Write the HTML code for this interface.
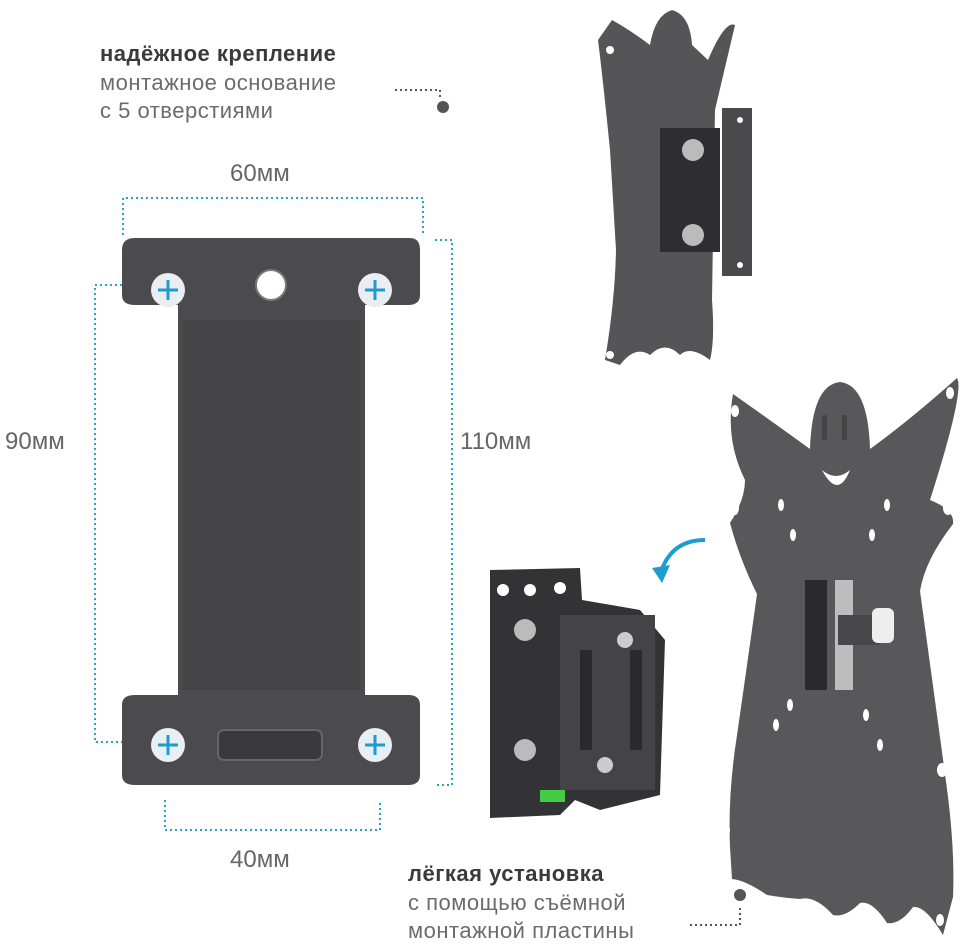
<!DOCTYPE html>
<html><head><meta charset="utf-8"><style>
html,body{margin:0;padding:0;background:#fff;}
body{width:968px;height:944px;position:relative;overflow:hidden;font-family:"Liberation Sans","DejaVu Sans",sans-serif;}
svg{position:absolute;left:0;top:0;}
.t{position:absolute;font-size:22px;color:#6b6b6b;white-space:nowrap;letter-spacing:0.5px;z-index:2;}
.b{font-weight:bold;color:#3a3a3a;}
.d{position:absolute;font-size:24px;color:#666;z-index:2;}
</style></head><body>
<svg width="968" height="944">
<g stroke="#2aa3c9" stroke-width="2" stroke-dasharray="2,3" fill="none">
<path d="M123 235 V198 H423 V235"/>
<path d="M122 285 H95 V742 H122"/>
<path d="M435 240 H452 V785 H435"/>
<path d="M165 800 V830 H380 V800"/>
</g>
<g stroke="#555" stroke-width="2" stroke-dasharray="2,3" fill="none">
<path d="M395 90 H440 V100"/>
<path d="M690 925 H740 V905"/>
</g>
<circle cx="443" cy="107" r="6" fill="#555"/>
<!-- main plate -->
<path d="M135 238 H410 Q420 238 420 250 V295 Q420 305 408 305 H365 V695 H408 Q420 695 420 705 V775 Q420 785 408 785 H135 Q122 785 122 775 V705 Q122 695 135 695 H178 V305 H135 Q122 305 122 295 V250 Q122 238 135 238 Z" fill="#4b4b4d"/>
<rect x="182" y="320" width="178" height="370" fill="#454547"/>
<g fill="#e8eef2">
<circle cx="168" cy="290" r="17"/><circle cx="375" cy="290" r="17"/>
<circle cx="168" cy="745" r="17"/><circle cx="375" cy="745" r="17"/>
</g>
<g stroke="#1e9bd0" stroke-width="3">
<path d="M158 290H178M168 280V300M365 290H385M375 280V300M158 745H178M168 735V755M365 745H385M375 735V755"/>
</g>
<circle cx="271" cy="285" r="15" fill="#fff" stroke="#777" stroke-width="2"/>
<rect x="218" y="730" width="104" height="30" rx="6" fill="#3a3a3c" stroke="#666" stroke-width="2"/>
<!-- top ghost plate (small, angled) -->
<path d="M612 20 Q630 30 650 45 Q655 15 672 10 Q690 15 692 45 L708 60 Q725 20 735 25 L715 110 L712 300 Q715 340 710 360 Q690 345 680 355 Q665 340 650 355 Q635 345 620 365 L605 360 Q615 300 616 250 L610 150 Q603 80 598 40 Z" fill="#555557"/>
<rect x="722" y="108" width="30" height="168" fill="#4a4a4c"/>
<rect x="660" y="128" width="60" height="124" fill="#2e2e30"/>
<circle cx="693" cy="150" r="11" fill="#bbb"/><circle cx="693" cy="235" r="11" fill="#bbb"/>
<g fill="#fff"><circle cx="610" cy="50" r="4"/><circle cx="610" cy="355" r="4"/><circle cx="740" cy="120" r="3"/><circle cx="740" cy="265" r="3"/></g>
<!-- big ghost plate -->
<path d="M733 394 Q770 420 810 449 Q812 385 840 382 Q868 385 870 449 Q910 420 957 378 Q965 390 930 500 Q955 510 953 524 Q925 560 920 591 Q935 700 947 789 Q955 850 953 897 L943 935 Q925 905 913 907 Q900 925 887 923 Q872 900 860 903 Q845 918 833 915 Q815 895 800 899 Q785 898 767 895 Q745 880 732 879 L730 847 Q728 800 735 749 Q745 680 757 594 Q740 560 730 523 Q745 500 745 480 Q725 440 733 394 Z" fill="#58585a"/>
<g fill="#fff">
<ellipse cx="735" cy="411" rx="4" ry="6"/><ellipse cx="950" cy="393" rx="4" ry="6"/>
<ellipse cx="735" cy="508" rx="4" ry="7"/><ellipse cx="948" cy="508" rx="5" ry="7"/>
<ellipse cx="781" cy="505" rx="3" ry="6"/><ellipse cx="887" cy="505" rx="3" ry="6"/>
<ellipse cx="793" cy="535" rx="3" ry="6"/><ellipse cx="872" cy="535" rx="3" ry="6"/>
<ellipse cx="790" cy="705" rx="3" ry="6"/><ellipse cx="866" cy="715" rx="3" ry="6"/>
<ellipse cx="776" cy="725" rx="3" ry="6"/><ellipse cx="880" cy="745" rx="3" ry="6"/>
<ellipse cx="730" cy="705" rx="4" ry="7"/><ellipse cx="942" cy="770" rx="5" ry="7"/>
<ellipse cx="726" cy="830" rx="4" ry="6"/><ellipse cx="940" cy="920" rx="4" ry="6"/>
<path d="M822 470 Q838 500 850 470 Q836 482 822 470 Z"/>
</g>
<g fill="#444"><rect x="822" y="415" width="5" height="25" rx="2"/><rect x="842" y="415" width="5" height="25" rx="2"/></g>
<rect x="805" y="580" width="22" height="110" fill="#2a2a2c"/>
<rect x="835" y="580" width="18" height="110" fill="#bdbdbd"/>
<path d="M838 615 H880 V645 H838 Z" fill="#48484a"/>
<rect x="872" y="608" width="22" height="35" rx="6" fill="#eee"/>
<!-- bracket -->
<path d="M490 570 L580 568 L582 600 L640 610 L665 640 L660 795 L600 810 L575 800 L560 815 L490 818 Z" fill="#333335"/>
<rect x="560" y="615" width="95" height="175" fill="#444446"/>
<g fill="#fff"><circle cx="503" cy="590" r="6"/><circle cx="530" cy="590" r="6"/><circle cx="560" cy="588" r="6"/></g>
<circle cx="525" cy="630" r="11" fill="#bbb"/><circle cx="525" cy="750" r="11" fill="#bbb"/>
<circle cx="625" cy="640" r="8" fill="#ccc"/><circle cx="605" cy="765" r="8" fill="#ccc"/>
<rect x="580" y="650" width="12" height="100" fill="#2a2a2c"/><rect x="630" y="650" width="12" height="100" fill="#2a2a2c"/>
<rect x="540" y="790" width="25" height="12" fill="#4c4"/>
<path d="M705 540 Q670 540 660 575" stroke="#1e9bd0" stroke-width="4" fill="none"/>
<path d="M652 568 L662 583 L670 565 Z" fill="#1e9bd0"/>
<circle cx="740" cy="895" r="6" fill="#555"/>
</svg>
<div class="t b" style="left:100px;top:41px;">надёжное крепление</div>
<div class="t" style="left:100px;top:70px;">монтажное основание</div>
<div class="t" style="left:100px;top:98px;">с 5 отверстиями</div>
<div class="t b" style="left:408px;top:861px;">лёгкая установка</div>
<div class="t" style="left:408px;top:890px;">с помощью съёмной</div>
<div class="t" style="left:408px;top:918px;">монтажной пластины</div>
<div class="d" style="left:230px;top:160px;">60мм</div>
<div class="d" style="left:5px;top:428px;">90мм</div>
<div class="d" style="left:460px;top:428px;">110мм</div>
<div class="d" style="left:230px;top:846px;">40мм</div>
</body></html>
